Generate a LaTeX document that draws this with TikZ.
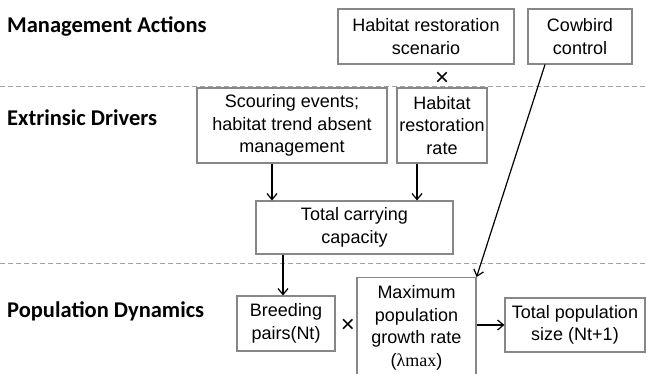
\documentclass[tikz,border=0pt]{standalone}
\usepackage{fontspec}
\setmainfont{Liberation Sans}
\newfontfamily\titlefont{Carlito}
\newfontfamily\greekserif{Liberation Serif}
\usetikzlibrary{arrows.meta}
\definecolor{boxgray}{RGB}{135,135,135}
\definecolor{sepgray}{RGB}{160,160,160}
\begin{document}
\begin{tikzpicture}[x=1pt,y=-1pt,
  box/.style={draw=boxgray, line width=1.1pt, align=center, inner sep=0pt,
    font=\fontsize{18}{22.5}\selectfont},
  title/.style={anchor=west, inner sep=0pt, font=\titlefont\bfseries\fontsize{22.5}{27}\selectfont},
  sepline/.style={draw=sepgray, dash pattern=on 5pt off 3pt, line width=1pt},
  arr/.style={-{Straight Barb[length=6pt,width=10pt]}, line width=1.2pt},
  times/.style={font=\fontsize{24}{24}\selectfont, inner sep=0pt}]
\useasboundingbox (0,0) rectangle (647,373);
\clip (0,0) rectangle (647,373);

% separators
\draw[sepline] (0,86) -- (647,86);
\draw[sepline] (0,263) -- (647,263);

% titles
\node[title] (t1) at (7,26) {Management Actions};
\node[title] (t2) at (7,118) {Extrinsic Drivers};
\node[title] (t3) at (7,311) {Population Dynamics};

% boxes
\node[box, minimum width=176pt, minimum height=55pt] (hrs) at (426,36.5) {Habitat restoration\\scenario};
\node[box, minimum width=104pt, minimum height=55pt] (cow) at (580,36.5) {Cowbird\\control};
\node[times] (x1) at (442,79) {×};
\node[box, minimum width=190pt, minimum height=75pt] (scour) at (292,125.5) {Scouring events;\\habitat trend absent\\management};
\node[box, minimum width=90pt, minimum height=75pt] (hrr) at (442,125.5) {Habitat\\restoration\\rate};
\node[box, minimum width=197pt, minimum height=53pt] (tcc) at (354.5,227.5) {Total carrying\\capacity};
\node[box, minimum width=98pt, minimum height=55pt] (breed) at (286,323.5) {Breeding\\pairs(Nt)};
\node[times] (x2) at (348,326) {×};
\node[box, anchor=north, minimum width=119pt, minimum height=130pt, inner ysep=8pt] (maxpop) at (416.5,277)
  {Maximum\\population\\growth rate\\({\greekserif λmax})\\[30pt]};
\node[box, minimum width=140pt, minimum height=54pt] (tot) at (575,325) {Total population\\size (Nt+1)};

% connectors
\draw[arr] ([xshift=-20pt]scour.south) -- ([xshift=-20pt]scour.south |- tcc.north);
\draw[arr] ([xshift=-25pt]hrr.south) -- ([xshift=-25pt]hrr.south |- tcc.north);
\draw[arr] ([xshift=-3pt]breed.north |- tcc.south) -- ([xshift=-3pt]breed.north);
\draw[arr] ([xshift=-35pt]cow.south) -- (maxpop.north east);
\draw[arr] (maxpop.east |- tot.west) -- (tot.west);
\end{tikzpicture}
\end{document}
